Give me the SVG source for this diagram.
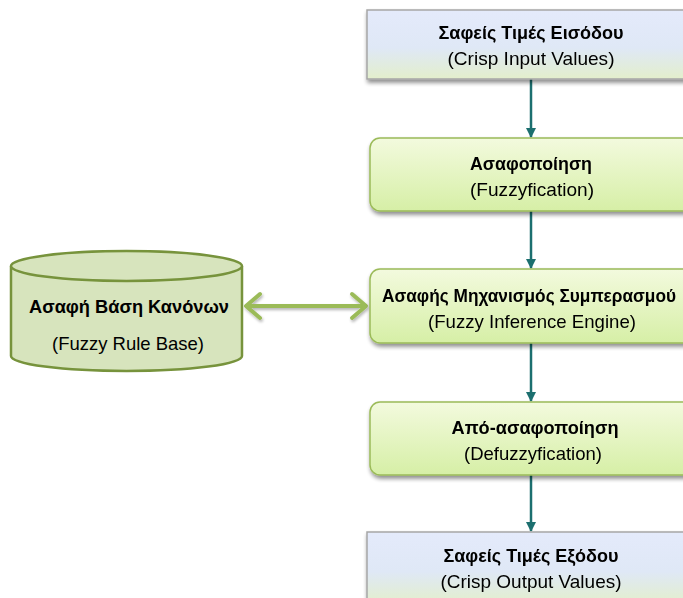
<svg xmlns="http://www.w3.org/2000/svg" width="683" height="598" viewBox="0 0 683 598">
  <defs>
    <linearGradient id="gBlue" x1="0" y1="0" x2="0" y2="1">
      <stop offset="0" stop-color="#e4eafb"/>
      <stop offset="0.55" stop-color="#dfe8f6"/>
      <stop offset="1" stop-color="#e3efcc"/>
    </linearGradient>
    <linearGradient id="gGreen" x1="0" y1="0" x2="0" y2="1">
      <stop offset="0" stop-color="#f3fade"/>
      <stop offset="1" stop-color="#d6efa6"/>
    </linearGradient>
    <filter id="shadow" x="-10%" y="-20%" width="130%" height="150%">
      <feGaussianBlur in="SourceAlpha" stdDeviation="2"/>
      <feOffset dx="1" dy="3"/>
      <feComponentTransfer><feFuncA type="linear" slope="0.45"/></feComponentTransfer>
      <feMerge><feMergeNode/><feMergeNode in="SourceGraphic"/></feMerge>
    </filter>
    <filter id="lineShadow" x="-10%" y="-100%" width="120%" height="300%">
      <feGaussianBlur in="SourceAlpha" stdDeviation="1.5"/>
      <feOffset dx="1" dy="2"/>
      <feComponentTransfer><feFuncA type="linear" slope="0.3"/></feComponentTransfer>
      <feMerge><feMergeNode/><feMergeNode in="SourceGraphic"/></feMerge>
    </filter>
    <marker id="tealHead" viewBox="0 0 10 10" refX="9" refY="5" markerWidth="4.2" markerHeight="4.2" orient="auto" markerUnits="strokeWidth">
      <path d="M0,0 L10,5 L0,10 z" fill="#1c6f6f"/>
    </marker>
  </defs>
  <style>
    .title { font-family: "Liberation Sans", Arial, sans-serif; font-weight: bold; font-size: 19px; fill: #000; text-anchor: middle; }
    .sub { font-family: "Liberation Sans", Arial, sans-serif; font-size: 19px; fill: #000; text-anchor: middle; }
    .flat { fill: url(#gBlue); stroke: #a6a6a6; stroke-width: 1.5; }
    .step { fill: url(#gGreen); stroke: #9bbb59; stroke-width: 1.5; }
    .flow { stroke: #1c6f6f; stroke-width: 2.5; fill: none; marker-end: url(#tealHead); }
    .db { fill: #d7e4bd; stroke: #77933c; stroke-width: 2.5; }
  </style>

  <!-- connectors -->
  <g id="connectors">
    <line class="flow" x1="531" y1="79" x2="531" y2="137"/>
    <line class="flow" x1="531" y1="211" x2="531" y2="268"/>
    <line class="flow" x1="531" y1="343" x2="531" y2="401"/>
    <line class="flow" x1="531" y1="475" x2="531" y2="531"/>
    <g filter="url(#lineShadow)" stroke="#9bbb59" stroke-width="4" fill="none" stroke-linecap="round" stroke-linejoin="round">
      <line x1="247" y1="306" x2="365" y2="306"/>
      <polyline points="260,294 246,306 260,318"/>
      <polyline points="352,294 366,306 352,318"/>
    </g>
  </g>

  <!-- condensed look: text squeezed to fixed lengths -->
  <g id="input" filter="url(#shadow)">
    <rect class="flat" x="367" y="10" width="330" height="69"/>
    <text class="title" x="531" y="39" textLength="185" lengthAdjust="spacingAndGlyphs">Σαφείς Τιμές Εισόδου</text>
    <text class="sub" x="531" y="65" textLength="167" lengthAdjust="spacingAndGlyphs">(Crisp Input Values)</text>
  </g>

  <g id="fuzzification" filter="url(#shadow)">
    <rect class="step" x="370" y="138" width="330" height="73" rx="10"/>
    <text class="title" x="531" y="170" textLength="122" lengthAdjust="spacingAndGlyphs">Ασαφοποίηση</text>
    <text class="sub" x="532" y="196" textLength="124" lengthAdjust="spacingAndGlyphs">(Fuzzyfication)</text>
  </g>

  <g id="inference" filter="url(#shadow)">
    <rect class="step" x="370" y="269" width="330" height="74" rx="10"/>
    <g transform="translate(529,302) scale(0.891,1)">
      <text class="title" x="0" y="0" textLength="330" lengthAdjust="spacingAndGlyphs">Ασαφής Μηχανισμός Συμπερασμού</text>
    </g>
    <text class="sub" x="532" y="328" textLength="208" lengthAdjust="spacingAndGlyphs">(Fuzzy Inference Engine)</text>
  </g>

  <g id="defuzzification" filter="url(#shadow)">
    <rect class="step" x="370" y="402" width="330" height="73" rx="10"/>
    <text class="title" x="535" y="434" textLength="167" lengthAdjust="spacingAndGlyphs">Από-ασαφοποίηση</text>
    <text class="sub" x="533" y="460" textLength="138" lengthAdjust="spacingAndGlyphs">(Defuzzyfication)</text>
  </g>

  <g id="output" filter="url(#shadow)">
    <rect class="flat" x="367" y="532" width="330" height="72"/>
    <text class="title" x="531" y="562" textLength="175" lengthAdjust="spacingAndGlyphs">Σαφείς Τιμές Εξόδου</text>
    <text class="sub" x="531" y="588" textLength="181" lengthAdjust="spacingAndGlyphs">(Crisp Output Values)</text>
  </g>

  <g id="rulebase">
    <path class="db" d="M11,266 L11,356 A115.5,15 0 0 0 242,356 L242,266"/>
    <ellipse class="db" cx="126.5" cy="266" rx="115.5" ry="15"/>
    <text class="title" x="129" y="313" textLength="200" lengthAdjust="spacingAndGlyphs">Ασαφή Βάση Κανόνων</text>
    <text class="sub" x="128" y="350" textLength="152" lengthAdjust="spacingAndGlyphs">(Fuzzy Rule Base)</text>
  </g>
</svg>
